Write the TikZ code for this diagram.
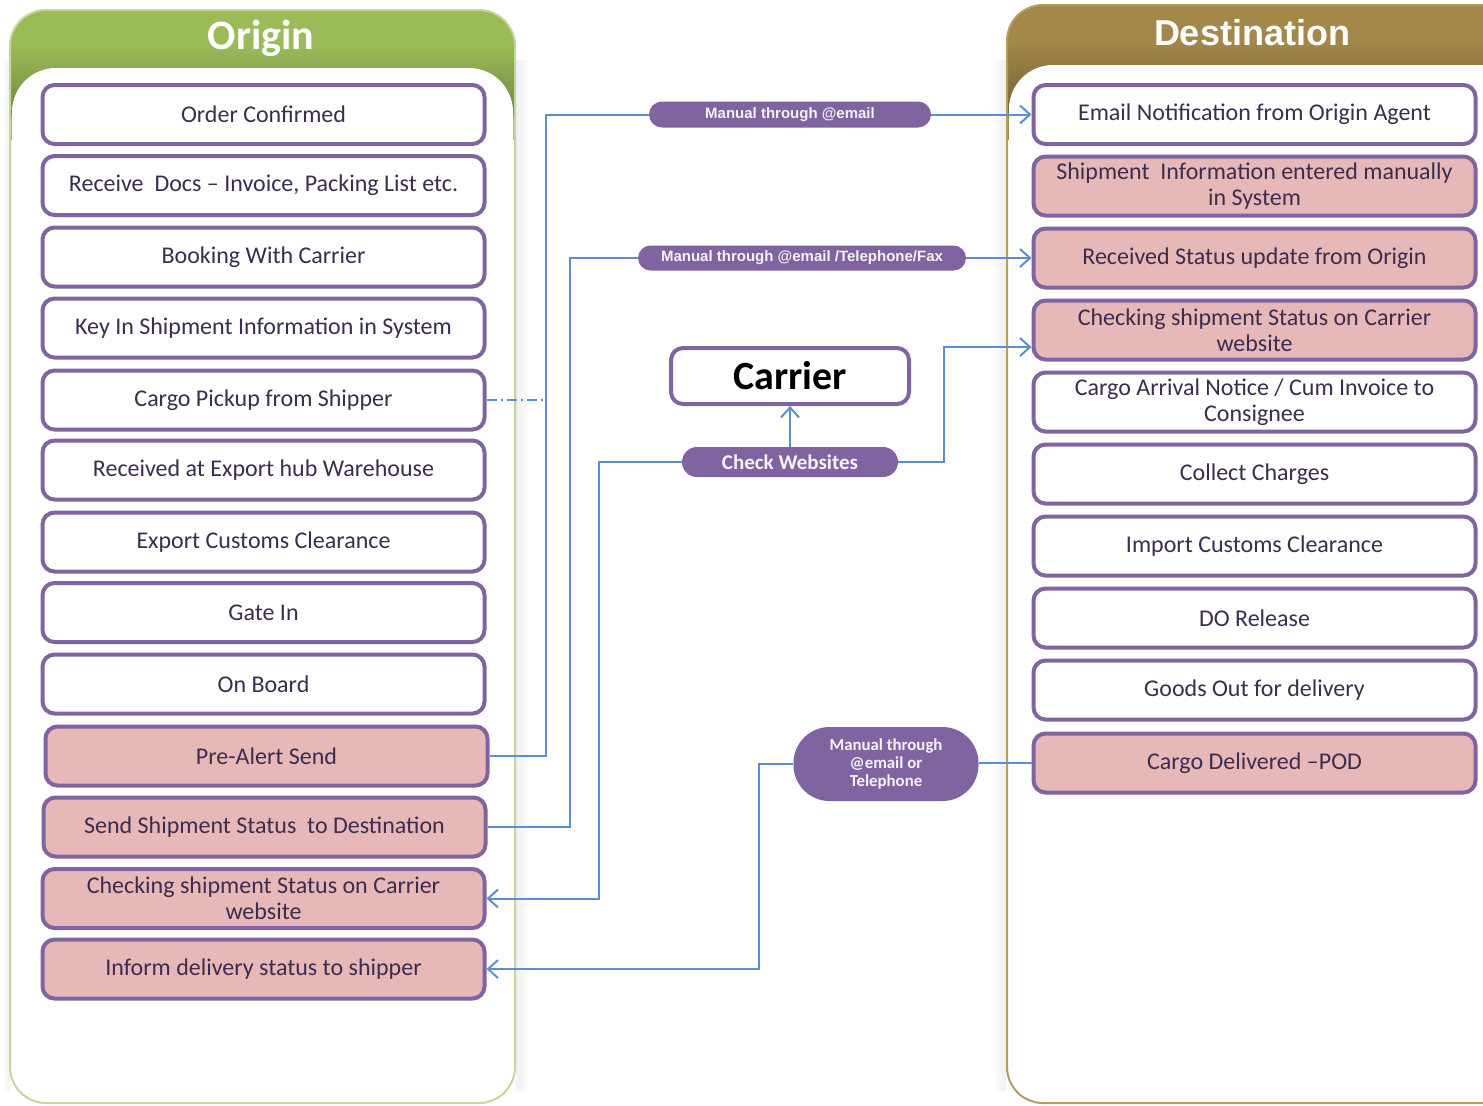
\documentclass[tikz,border=0pt]{standalone}
\usepackage{fontspec}
\setmainfont{Carlito}
\newfontfamily\arialf{Liberation Sans}
\usetikzlibrary{arrows.meta,calc}
\definecolor{purp}{HTML}{8064A2}
\definecolor{pinkf}{HTML}{E6B9B8}
\definecolor{txt}{HTML}{3B2D4E}
\definecolor{ogreen}{HTML}{9BBB59}
\definecolor{ogreenl}{HTML}{C3D69B}
\definecolor{dbrown}{HTML}{A38849}
\definecolor{dbrownl}{HTML}{B49C63}
\definecolor{lineblue}{HTML}{5B8FD0}
\begin{document}
\begin{tikzpicture}[x=0.5pt,y=-0.5pt,
  lbox/.style={draw=purp, line width=2pt, rounded corners=6pt, fill=white,
    minimum width=221pt, minimum height=29.5pt, text=txt,
    font=\fontsize{12}{13}\selectfont, align=center, inner sep=1pt},
  pbox/.style={lbox, fill=pinkf},
  pill/.style={fill=purp, text=white!92!purp, inner sep=0pt, align=center},
  conn/.style={draw=lineblue, line width=1pt},
  arr/.style={conn, -{Straight Barb[length=5pt,width=9pt]}}]
\useasboundingbox (0,0) rectangle (1483,1105);
% soft shadows
\shade[left color=gray!12, right color=white] (516,60) rectangle (530,1090);
\shade[right color=gray!12, left color=white] (992,60) rectangle (1006,1090);
\shade[right color=gray!10, left color=white] (2,60) rectangle (10,1090);
% left panel
\begin{scope}
  \clip[rounded corners=18pt] (10,10) rectangle (515,1103);
  \fill[ogreen] (10,10) rectangle (515,140);
  \shade[top color=ogreen, bottom color=ogreen!72!black] (10,45) rectangle (515,115);
  \fill[white, rounded corners=22pt] (12,68) rectangle (513,1160);
\end{scope}
\draw[ogreenl, line width=1pt, rounded corners=18pt] (10,10) rectangle (515,1103);
\node[text=white, font=\bfseries\fontsize{21}{24}\selectfont] (hO) at (261,38) {Origin};
% right panel
\begin{scope}
  \clip[rounded corners=18pt] (1007,5) rectangle (1530,1103);
  \fill[dbrown] (1007,5) rectangle (1530,140);
  \shade[top color=dbrown, bottom color=dbrown!72!black] (1007,40) rectangle (1530,112);
  \fill[white, rounded corners=22pt] (1009,65) rectangle (1530,1160);
\end{scope}
\draw[dbrownl, line width=1pt, rounded corners=18pt] (1007,5) rectangle (1530,1103);
\node[text=white, font=\arialf\bfseries\fontsize{18}{21}\selectfont] (hD) at (1252,33) {Destination};
% left boxes
\node[lbox] (l1) at (263.5,114.5) {Order Confirmed};
\node[lbox] (l2) at (263.5,185.5) {Receive \ Docs -- Invoice, Packing List etc.};
\node[lbox] (l3) at (263.5,257) {Booking With Carrier};
\node[lbox] (l4) at (263.5,328) {Key In Shipment Information in System};
\node[lbox] (l5) at (263.5,400) {Cargo Pickup from Shipper};
\node[lbox] (l6) at (263.5,470) {Received at Export hub Warehouse};
\node[lbox] (l7) at (263.5,542) {Export Customs Clearance};
\node[lbox] (l8) at (263.5,612.5) {Gate In};
\node[lbox] (l9) at (263.5,684) {On Board};
\node[pbox] (l10) at (266.5,756) {Pre-Alert Send};
\node[pbox] (l11) at (264.5,827) {Send Shipment Status \ to Destination};
\node[pbox] (l12) at (263.5,898.5) {Checking shipment Status on Carrier\\website};
\node[pbox] (l13) at (263.5,969) {Inform delivery status to shipper};
% right boxes
\node[lbox] (r1) at (1254.5,114.5) {Email Notification from Origin Agent};
\node[pbox] (r2) at (1254.5,186) {Shipment \ Information entered manually\\in System};
\node[pbox] (r3) at (1254.5,258) {Received Status update from Origin};
\node[pbox] (r4) at (1254.5,330) {Checking shipment Status on Carrier\\website};
\node[lbox] (r5) at (1254.5,402) {Cargo Arrival Notice / Cum Invoice to\\Consignee};
\node[lbox] (r6) at (1254.5,474) {Collect Charges};
\node[lbox] (r7) at (1254.5,546) {Import Customs Clearance};
\node[lbox] (r8) at (1254.5,618) {DO Release};
\node[lbox] (r9) at (1254.5,690) {Goods Out for delivery};
\node[pbox] (r10) at (1254.5,763) {Cargo Delivered --POD};
% carrier
\node[draw=purp, line width=2pt, rounded corners=6pt, fill=white, minimum width=119pt,
  minimum height=28pt, font=\bfseries\fontsize{20}{22}\selectfont] (car) at (790,376) {Carrier};
% pills
\node[pill, rounded corners=6.5pt, minimum width=141pt, minimum height=13pt,
  font=\arialf\bfseries\fontsize{7.5}{9}\selectfont] (p1) at (790,114.5) {Manual through @email};
\node[pill, rounded corners=6.25pt, minimum width=164pt, minimum height=12.5pt,
  font=\arialf\bfseries\fontsize{7.5}{9}\selectfont] (p2) at (802,258) {Manual through @email /Telephone/Fax};
\node[pill, rounded corners=7.5pt, minimum width=108pt, minimum height=15pt,
  font=\bfseries\fontsize{10.5}{12}\selectfont] (cw) at (790,462) {Check Websites};
\node[pill, rounded corners=18pt, minimum width=92.5pt, minimum height=37pt,
  font=\bfseries\fontsize{8.4}{8.8}\selectfont] (bub) at (886,764) {Manual through\\@email or\\Telephone};
% guide coordinates
\coordinate (v1) at (546,0);
\coordinate (v2) at (570,0);
\coordinate (v3) at (599,0);
\coordinate (v4) at (944,0);
\coordinate (v5) at (759,0);
\coordinate (r4in) at ($(r4.west)+(0,17)$);
% connectors
\draw[conn] (l10.east) -- (l10.east -| v1) |- (p1.west);
\draw[arr] (p1.east) -- (r1.west);
\draw[conn, line width=0.8pt, dash pattern=on 5pt off 2pt on 1pt off 2pt] (l5.east) -- (l5.east -| v1);
\draw[conn] (l11.east) -- (l11.east -| v2) |- (p2.west);
\draw[arr] (p2.east) -- (r3.west);
\draw[arr] (cw.north) -- (car.south);
\draw[arr] (cw.west) -- (cw.west -| v3) |- (l12.east);
\draw[arr] (cw.east) -- (cw.east -| v4) |- (r4in);
\draw[conn] (r10.west) -- (bub.east |- r10.west);
\draw[arr] (bub.west) -- (bub.west -| v5) |- (l13.east);
\end{tikzpicture}
\end{document}
